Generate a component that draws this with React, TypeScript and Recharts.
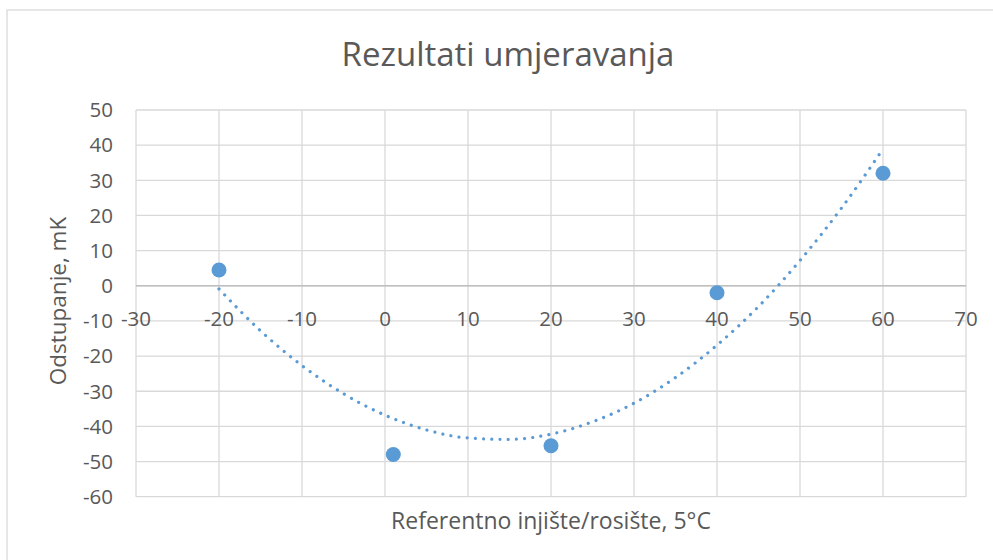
import React from 'react';
import { ScatterChart, Scatter, XAxis, YAxis, CartesianGrid, ReferenceLine } from 'recharts';

// Measured points
const measX = [-20, 1, 20, 40, 60];
const measY = [4.5, -48, -45.5, -2, 32];

// Polynomial trendline
const trendX = [-20, -15, -10, -5, 0, 5, 10, 15, 20, 25, 30, 35, 40, 45, 50, 55, 60];
const trendY = [-0.9, -12.8, -22.7, -30.7, -36.8, -41.0, -43.3, -43.7, -42.2, -38.7, -33.4, -26.1, -16.9, -5.9, 7.2, 22.1, 38.9];

const xTicks = [-30, -20, -10, 0, 10, 20, 30, 40, 50, 60, 70];
const yTicks = [50, 40, 30, 20, 10, 0, -10, -20, -30, -40, -50, -60];

const measured = measX.map((x, i) => ({ x, y: measY[i] }));
const trend = trendX.map((x, i) => ({ x, y: trendY[i] }));

const W = 993;
const H = 560;
const PLOT_TOP = 110;
const PLOT_BOTTOM = 496.7;
const PLOT_LEFT = 136;
const PLOT_RIGHT = 966;
const X_AXIS_H = 30;
const Y_MIN = -60;
const Y_MAX = 50;
const ZERO_Y = PLOT_TOP + ((PLOT_BOTTOM - PLOT_TOP) * (Y_MAX - 0)) / (Y_MAX - Y_MIN);

const FONT = '"Open Sans", "Liberation Sans", sans-serif';
const TEXT = '#595959';
const BLUE = '#5B9BD5';

const XTick = (props: any) => {
  const { x, payload } = props;
  return (
    <text x={x} y={ZERO_Y + 40} textAnchor="middle" fill={TEXT} fontSize={20.5} fontFamily={FONT}>
      {payload.value}
    </text>
  );
};

const Dot = (props: any) => {
  const { cx, cy } = props;
  if (cx == null || cy == null) return <g />;
  return <circle cx={cx} cy={cy} r={7.5} fill={BLUE} />;
};

const NoShape = () => <g />;

export default function App() {
  return (
    <div style={{ position: 'absolute', left: 0, top: 0, width: W, height: H, background: '#fff', overflow: 'hidden' }}>
      <ScatterChart
        width={W}
        height={H}
        margin={{ top: PLOT_TOP, right: W - PLOT_RIGHT, bottom: H - PLOT_BOTTOM - X_AXIS_H, left: 0 }}
      >
        <CartesianGrid stroke="#D9D9D9" strokeWidth={1.3} />
        <XAxis
          type="number"
          dataKey="x"
          domain={[-30, 70]}
          ticks={xTicks}
          interval={0}
          axisLine={false}
          tickLine={false}
          height={X_AXIS_H}
          tick={<XTick />}
          allowDataOverflow
        />
        <YAxis
          type="number"
          dataKey="y"
          domain={[Y_MIN, Y_MAX]}
          ticks={yTicks}
          interval={0}
          axisLine={false}
          tickLine={false}
          tickSize={0}
          tickMargin={23}
          width={PLOT_LEFT}
          tick={{ fill: TEXT, fontSize: 20.5, fontFamily: FONT }}
          allowDataOverflow
        />
        <ReferenceLine y={0} stroke="#BFBFBF" strokeWidth={1.6} />
        <Scatter
          data={trend}
          isAnimationActive={false}
          fill={BLUE}
          shape={<NoShape />}
          line={{ stroke: BLUE, strokeWidth: 3.2, strokeDasharray: '0.01 8.2', strokeLinecap: 'round' }}
          lineJointType="monotoneX"
        />
        <Scatter data={measured} isAnimationActive={false} fill={BLUE} shape={<Dot />} />
      </ScatterChart>
      <svg width={W} height={H} style={{ position: 'absolute', left: 0, top: 0, pointerEvents: 'none' }}>
        <rect x={7} y={10} width={1100} height={700} fill="none" stroke="#D9D9D9" strokeWidth={1.3} />
        <text x={508} y={66} textAnchor="middle" fill={TEXT} fontSize={33} fontFamily={FONT}>
          Rezultati umjeravanja
        </text>
        <text x={551} y={529} textAnchor="middle" fill={TEXT} fontSize={23} fontFamily={FONT}>
          Referentno injište/rosište, 5°C
        </text>
        <text
          x={0}
          y={0}
          transform={`translate(66, 301) rotate(-90)`}
          textAnchor="middle"
          fill={TEXT}
          fontSize={22.5}
          fontFamily={FONT}
        >
          Odstupanje, mK
        </text>
      </svg>
    </div>
  );
}
